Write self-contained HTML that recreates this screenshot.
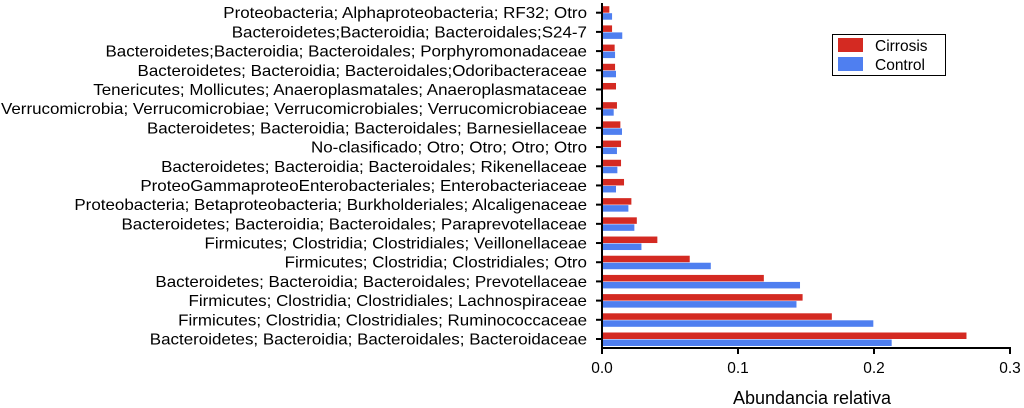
<!DOCTYPE html>
<html><head><meta charset="utf-8">
<style>
html,body{margin:0;padding:0;background:#fff;}
svg{display:block;font-family:"Liberation Sans",Arial,sans-serif;}
</style></head>
<body>
<svg id="chart" width="1024" height="408" viewBox="0 0 1024 408" xmlns="http://www.w3.org/2000/svg">
<g id="bars"></g>
<g id="labels"></g>
<g id="axes"></g>
<g>
<rect x="832.5" y="34.5" width="113" height="41" fill="#fff" stroke="#000" stroke-width="1"/>
<rect x="838" y="38" width="25" height="14" fill="#d42a22"/>
<rect x="838" y="57" width="25" height="14" fill="#4f7ff0"/>
<text x="875" y="51" font-size="15.5" fill="#000">Cirrosis</text>
<text x="875" y="70" font-size="15.5" fill="#000">Control</text>
</g>
<text x="812" y="404" font-size="18" text-anchor="middle" fill="#000">Abundancia relativa</text>
</svg>
<script>
const categories = [
"Proteobacteria; Alphaproteobacteria; RF32; Otro",
"Bacteroidetes;Bacteroidia; Bacteroidales;S24-7",
"Bacteroidetes;Bacteroidia; Bacteroidales; Porphyromonadaceae",
"Bacteroidetes; Bacteroidia; Bacteroidales;Odoribacteraceae",
"Tenericutes; Mollicutes; Anaeroplasmatales; Anaeroplasmataceae",
"Verrucomicrobia; Verrucomicrobiae; Verrucomicrobiales; Verrucomicrobiaceae",
"Bacteroidetes; Bacteroidia; Bacteroidales; Barnesiellaceae",
"No-clasificado; Otro; Otro; Otro; Otro",
"Bacteroidetes; Bacteroidia; Bacteroidales; Rikenellaceae",
"ProteoGammaproteoEnterobacteriales; Enterobacteriaceae",
"Proteobacteria; Betaproteobacteria; Burkholderiales; Alcaligenaceae",
"Bacteroidetes; Bacteroidia; Bacteroidales; Paraprevotellaceae",
"Firmicutes; Clostridia; Clostridiales; Veillonellaceae",
"Firmicutes; Clostridia; Clostridiales; Otro",
"Bacteroidetes; Bacteroidia; Bacteroidales; Prevotellaceae",
"Firmicutes; Clostridia; Clostridiales; Lachnospiraceae",
"Firmicutes; Clostridia; Clostridiales; Ruminococcaceae",
"Bacteroidetes; Bacteroidia; Bacteroidales; Bacteroidaceae"
];
const cirrosis = [0.0054,0.0074,0.0093,0.0096,0.0103,0.011,0.0135,0.014,0.014,0.0162,0.0216,0.0256,0.0407,0.0645,0.119,0.1475,0.169,0.268];
const control  = [0.0074,0.0149,0.0096,0.0103,0,0.0086,0.0147,0.011,0.0113,0.0103,0.0194,0.0238,0.029,0.080,0.1456,0.143,0.1995,0.213];
const xTicks = [0.0,0.1,0.2,0.3];
const xTickLabels = ["0.0","0.1","0.2","0.3"];

const NS="http://www.w3.org/2000/svg";
const X0=602, X1=1010, XMAX=0.3, YTOP=12.7, YBOT=339, AXY=348;
const xs=v=>X0+(v/XMAX)*(X1-X0);
const ys=i=>YTOP+i*(YBOT-YTOP)/(categories.length-1);
function mk(tag,attrs,parent){const e=document.createElementNS(NS,tag);for(const k in attrs)e.setAttribute(k,attrs[k]);parent.appendChild(e);return e;}
const gB=document.getElementById('bars'),gL=document.getElementById('labels'),gA=document.getElementById('axes');
categories.forEach((c,i)=>{
  const y=ys(i);
  const r=mk('rect',{x:X0,y:y-6.5,width:xs(cirrosis[i])-X0,height:6.5,fill:'#d42a22'},gB);
  
  
  if(control[i]>0){
    const b=mk('rect',{x:X0,y:y+0.5,width:xs(control[i])-X0,height:6.5,fill:'#4f7ff0'},gB);
    
    
  }
  const t=mk('text',{x:587,y:y+5.5,'font-size':16,'text-anchor':'end',fill:'#000'},gL);
  t.textContent=c;
  
  
  const tk=mk('line',{x1:X0-6,x2:X0,y1:y,y2:y,stroke:'#000','stroke-width':2},gA);
  
  
});
let maxW=0;const texts=[...gL.querySelectorAll('text')];
texts.forEach(t=>{maxW=Math.max(maxW,t.getComputedTextLength());});
const sc=586/maxW;
texts.forEach(t=>{const w=t.getComputedTextLength();t.setAttribute('textLength',w*sc);t.setAttribute('lengthAdjust','spacingAndGlyphs');});
const ya=mk('line',{x1:X0,x2:X0,y1:3,y2:AXY+1,stroke:'#000','stroke-width':2},gA);


const xa=mk('line',{x1:X0-1,x2:X1+1,y1:AXY,y2:AXY,stroke:'#000','stroke-width':2},gA);


xTicks.forEach((v,i)=>{
  const l=mk('line',{x1:xs(v),x2:xs(v),y1:AXY,y2:AXY+6,stroke:'#000','stroke-width':2},gA);
  
  
  const t=mk('text',{x:xs(v),y:373,'font-size':15.5,'text-anchor':'middle',fill:'#000'},gA);
  t.textContent=xTickLabels[i];
  
  
});
</script>
</body></html>
